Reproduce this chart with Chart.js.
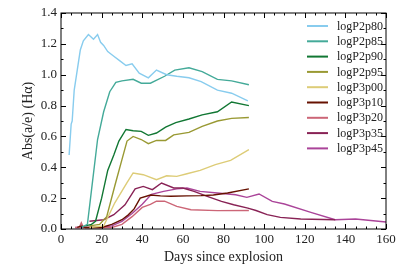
<!DOCTYPE html>
<html>
<head>
<meta charset="utf-8">
<script src="https://cdn.jsdelivr.net/npm/chart.js@4/dist/chart.umd.min.js"></script>
<style>
  html, body { margin: 0; padding: 0; background: #fff; }
  #wrap { width: 407px; height: 271px; }
</style>
</head>
<body>
<div id="wrap"><canvas id="chart"></canvas></div>
<script>
// series labels and colours
const seriesNames = ['logP2p80', 'logP2p85', 'logP2p90', 'logP2p95', 'logP3p00', 'logP3p10', 'logP3p20', 'logP3p35', 'logP3p45'];
const seriesColors = ['#88CCEE', '#44AA99', '#117733', '#999933', '#DDCC77', '#661100', '#CC6677', '#882255', '#AA4499'];

// days since explosion / Abs(a/e) per model
const p80Days = [4, 5, 5.5, 6.5, 9.5, 11, 13.5, 16, 18, 19.5, 21, 23, 26, 29, 32, 35, 38.5, 43, 47, 52, 57, 63, 69, 77, 84, 92];
const p80Vals = [0.48, 0.68, 0.70, 0.90, 1.16, 1.22, 1.26, 1.23, 1.26, 1.21, 1.19, 1.15, 1.12, 1.09, 1.06, 1.07, 1.01, 0.98, 1.03, 1.00, 0.99, 0.98, 0.955, 0.90, 0.88, 0.83];

const p85Days = [10, 13, 15, 18, 21, 24, 27, 30, 35.5, 39.5, 44, 51, 56, 63, 69.5, 77, 84, 92.5];
const p85Vals = [0.01, 0.03, 0.25, 0.58, 0.76, 0.89, 0.95, 0.96, 0.97, 0.945, 0.945, 0.99, 1.03, 1.045, 1.02, 0.97, 0.96, 0.935];

const p90Days = [12, 15, 17, 20, 23, 26, 28.5, 32, 35.5, 39.5, 43, 47, 51.5, 56.5, 63, 69.5, 77, 84, 92.5];
const p90Vals = [0.02, 0.03, 0.05, 0.20, 0.38, 0.48, 0.57, 0.645, 0.637, 0.633, 0.607, 0.622, 0.66, 0.69, 0.713, 0.74, 0.76, 0.823, 0.80];

const p95Days = [14, 19, 22.5, 26.5, 30, 32.5, 35.5, 39.5, 43, 47, 51.5, 55.5, 63, 69.5, 77, 84, 92.5];
const p95Vals = [0.02, 0.03, 0.08, 0.28, 0.45, 0.57, 0.60, 0.58, 0.553, 0.574, 0.574, 0.61, 0.626, 0.665, 0.70, 0.717, 0.723];

const p00Days = [14, 21, 26.5, 32.5, 35.5, 40.5, 47, 52, 57, 62, 68.5, 76, 83.5, 92.5];
const p00Vals = [0.01, 0.02, 0.17, 0.30, 0.363, 0.352, 0.32, 0.345, 0.341, 0.358, 0.38, 0.417, 0.445, 0.514];

const p10Days = [8, 10, 12, 20, 25, 30, 33, 36, 39, 44, 49, 54, 62, 69, 75, 82, 92.5];
const p10Vals = [0.01, 0.02, 0.01, 0.01, 0.03, 0.06, 0.09, 0.13, 0.20, 0.22, 0.215, 0.212, 0.215, 0.216, 0.22, 0.233, 0.26];

const p20Days = [7, 9, 10, 11, 15, 25, 30, 35, 40, 44, 47, 51, 57, 64, 77, 92.5];
const p20Vals = [0.01, 0.01, 0.04, 0.01, 0.01, 0.01, 0.03, 0.08, 0.14, 0.16, 0.18, 0.18, 0.147, 0.125, 0.119, 0.12];

const p35Days = [14, 21, 26, 31.5, 36.5, 40.5, 45, 49.5, 55.5, 60, 65.5, 72, 79, 85, 92, 96, 101.5, 108, 118, 135];
const p35Vals = [0.05, 0.06, 0.093, 0.157, 0.26, 0.276, 0.255, 0.298, 0.266, 0.266, 0.244, 0.211, 0.179, 0.157, 0.135, 0.12, 0.093, 0.075, 0.065, 0.06];

const p45Days = [7, 20, 25, 30, 35, 40, 44.5, 50.5, 57, 62, 68.5, 77, 86, 91.5, 97.5, 104, 110, 123, 135, 145, 160];
const p45Vals = [0.01, 0.01, 0.02, 0.05, 0.10, 0.16, 0.225, 0.244, 0.26, 0.266, 0.244, 0.233, 0.222, 0.205, 0.227, 0.179, 0.162, 0.108, 0.06, 0.065, 0.045];

const allDays = [p80Days, p85Days, p90Days, p95Days, p00Days, p10Days, p20Days, p35Days, p45Days];
const allVals = [p80Vals, p85Vals, p90Vals, p95Vals, p00Vals, p10Vals, p20Vals, p35Vals, p45Vals];

const FONT = "'Liberation Serif', 'DejaVu Serif', serif";

const datasets = seriesNames.map((name, i) => ({
  label: name,
  data: allDays[i].map((d, j) => ({ x: d, y: allVals[i][j] })),
  borderColor: seriesColors[i],
  backgroundColor: seriesColors[i],
  borderWidth: 1.4,
  pointRadius: 0,
  tension: 0,
  fill: false
}));

// frame with inward ticks on all four sides + legend inside the plot
const frameAndLegend = {
  id: 'frameAndLegend',
  afterDraw(chart) {
    const { ctx, chartArea: a, scales: { x, y } } = chart;
    ctx.save();
    ctx.strokeStyle = '#000';
    ctx.lineWidth = 1;
    ctx.strokeRect(a.left, a.top, a.right - a.left, a.bottom - a.top);
    ctx.beginPath();
    for (let v = 0; v <= 160; v += 5) {
      const px = Math.round(x.getPixelForValue(v)) + 0.5;
      const len = v % 20 === 0 ? 5 : 2.5;
      ctx.moveTo(px, a.bottom); ctx.lineTo(px, a.bottom - len);
      ctx.moveTo(px, a.top); ctx.lineTo(px, a.top + len);
    }
    for (let k = 0; k <= 14; k++) {
      const py = Math.round(y.getPixelForValue(k / 10)) + 0.5;
      const len = k % 2 === 0 ? 5 : 2.5;
      ctx.moveTo(a.left, py); ctx.lineTo(a.left + len, py);
      ctx.moveTo(a.right, py); ctx.lineTo(a.right - len, py);
    }
    ctx.stroke();

    // legend
    ctx.font = '12px ' + FONT;
    ctx.textBaseline = 'middle';
    ctx.fillStyle = '#222';
    chart.data.datasets.forEach((ds, i) => {
      const yy = 26 + i * 15.3;
      ctx.strokeStyle = ds.borderColor;
      ctx.lineWidth = 2;
      ctx.beginPath();
      ctx.moveTo(307, yy); ctx.lineTo(328, yy);
      ctx.stroke();
      ctx.fillText(ds.label, 337, yy + 0.5);
    });
    ctx.restore();
  }
};

new Chart(document.getElementById('chart'), {
  type: 'line',
  data: { datasets },
  options: {
    responsive: true,
    maintainAspectRatio: false,
    animation: false,
    layout: { padding: { top: 13, right: 21, left: 0, bottom: 0 } },
    plugins: { legend: { display: false }, tooltip: { enabled: false } },
    scales: {
      x: {
        type: 'linear',
        min: 0, max: 160,
        afterFit: s => { s.height = 42; },
        grid: { display: false, drawTicks: false },
        border: { display: false },
        ticks: { stepSize: 20, padding: 3, color: '#222', font: { family: FONT, size: 13 } },
        title: { display: true, text: 'Days since explosion', color: '#222', font: { family: FONT, size: 14 }, padding: { top: 0, bottom: 5 } }
      },
      y: {
        min: 0, max: 1.4,
        afterFit: s => { s.width = 61; },
        grid: { display: false, drawTicks: false },
        border: { display: false },
        ticks: { stepSize: 0.2, padding: 4, color: '#222', font: { family: FONT, size: 13 }, callback: v => v.toFixed(1) },
        title: { display: true, text: 'Abs(a/e) (Hα)', color: '#222', font: { family: FONT, size: 14 }, padding: { top: 20, bottom: 4 } }
      }
    }
  },
  plugins: [frameAndLegend]
});
</script>
</body>
</html>
